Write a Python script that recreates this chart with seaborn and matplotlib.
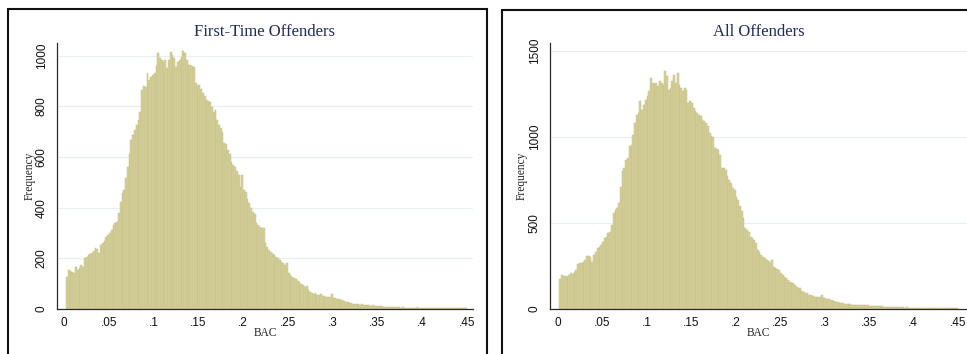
import numpy as np
import pandas as pd
import matplotlib
matplotlib.use("Agg")
import matplotlib.pyplot as plt
from matplotlib.patches import Rectangle
import seaborn as sns

# Histogram of blood alcohol content: counts per bin of width 0.002, starting at BAC 0.002
BIN_START = 0.002
BIN_WIDTH = 0.002

first_time_counts = [
    127, 153, 150, 146, 140, 166, 155, 160, 173, 166,
    199, 206, 212, 215, 219, 228, 239, 236, 219, 252,
    259, 268, 285, 290, 298, 311, 331, 338, 344, 377,
    423, 457, 470, 516, 560, 610, 668, 687, 707, 728,
    745, 780, 866, 879, 878, 932, 905, 918, 925, 931,
    960, 1010, 990, 985, 975, 985, 951, 985, 1017, 1004,
    990, 958, 977, 985, 997, 1021, 1012, 984, 964, 964,
    960, 958, 892, 879, 885, 868, 852, 840, 826, 822,
    819, 798, 780, 786, 745, 727, 714, 700, 654, 650,
    628, 610, 582, 570, 562, 545, 529, 483, 529, 470,
    463, 435, 417, 397, 384, 375, 338, 330, 324, 318,
    320, 259, 245, 232, 226, 215, 212, 206, 200, 193,
    186, 180, 172, 180, 140, 133, 127, 120, 116, 110,
    107, 96, 94, 87, 90, 74, 68, 63, 60, 61,
    55, 54, 58, 52, 50, 48, 47, 45, 58, 42,
    41, 38, 37, 35, 34, 29, 28, 25, 21, 22,
    20, 19, 18, 19, 16, 17, 15, 15, 14, 15,
    12, 13, 12, 11, 10, 11, 9, 8, 8, 7,
    7, 6, 6, 5, 6, 5, 5, 4, 5, 4,
    4, 3, 4, 3, 4, 3, 5, 3, 3, 2,
    3, 2, 2, 3, 2, 2, 2, 3, 2, 1,
    2, 1, 2, 1, 1, 2, 1, 1, 1, 1,
    2, 1, 1, 1,
]

all_counts = [
    171, 196, 192, 190, 183, 195, 206, 201, 212, 226,
    261, 265, 268, 274, 284, 307, 305, 303, 274, 313,
    330, 352, 362, 370, 391, 410, 420, 440, 449, 488,
    556, 575, 585, 614, 711, 799, 818, 867, 877, 945,
    955, 1013, 1080, 1130, 1139, 1207, 1159, 1188, 1217, 1240,
    1265, 1343, 1314, 1310, 1314, 1294, 1323, 1314, 1300, 1382,
    1353, 1275, 1285, 1323, 1363, 1314, 1372, 1304, 1285, 1265,
    1285, 1275, 1198, 1207, 1198, 1168, 1149, 1139, 1130, 1120,
    1100, 1090, 1081, 1061, 1023, 1003, 1000, 935, 930, 925,
    896, 818, 818, 808, 770, 750, 731, 702, 690, 653,
    634, 600, 566, 527, 470, 459, 449, 420, 410, 401,
    381, 342, 332, 310, 303, 294, 284, 280, 274, 284,
    245, 238, 230, 226, 210, 196, 183, 177, 170, 157,
    152, 148, 138, 128, 122, 119, 105, 99, 92, 90,
    82, 80, 72, 70, 67, 66, 70, 80, 62, 60,
    57, 55, 52, 51, 44, 41, 37, 35, 33, 31,
    30, 28, 26, 25, 24, 23, 22, 22, 21, 23,
    21, 20, 22, 20, 18, 17, 18, 16, 15, 14,
    13, 13, 12, 11, 11, 10, 9, 10, 8, 8,
    9, 7, 8, 7, 6, 7, 6, 6, 5, 6,
    5, 6, 5, 4, 5, 4, 6, 4, 4, 3,
    4, 3, 3, 4, 3, 2, 3, 2, 3, 2,
    2, 3, 2, 2,
]

x_ticks = [0, 0.05, 0.10, 0.15, 0.20, 0.25, 0.30, 0.35, 0.40, 0.45]
x_tick_labels = ["0", ".05", ".1", ".15", ".2", ".25", ".3", ".35", ".4", ".45"]
first_time_yticks = [0, 200, 400, 600, 800, 1000]
all_yticks = [0, 500, 1000, 1500]
panel_titles = ["First-Time Offenders", "All Offenders"]

sns.set_style("white")
plt.rcParams["font.family"] = ["Liberation Sans", "DejaVu Sans"]

BAR_FACE = "#d5d09a"
BAR_EDGE = "#c6c088"
GRID = "#e8f1f2"
SPINE = "#2a2a2a"
TITLE_COLOR = "#1f2d5c"
SERIF = ["Liberation Serif", "DejaVu Serif"]

W, H = 967, 354
fig = plt.figure(figsize=(W / 100, H / 100), dpi=100)
fig.patch.set_facecolor("white")


def px_axes(left, top, right, bottom):
    return fig.add_axes([left / W, 1 - bottom / H, (right - left) / W, (bottom - top) / H])


def draw_panel(ax, counts, yticks, ylim, xlim, title):
    n_bins = len(counts)
    centers = BIN_START + BIN_WIDTH * (np.arange(n_bins) + 0.5)
    df = pd.DataFrame({"bac": centers, "n": np.asarray(counts, dtype=float)})
    sns.histplot(data=df, x="bac", weights="n", binwidth=BIN_WIDTH,
                 binrange=(BIN_START, BIN_START + BIN_WIDTH * n_bins), ax=ax,
                 color=BAR_FACE, edgecolor=BAR_EDGE, linewidth=0.35,
                 alpha=1.0, zorder=2)
    ax.set_xlim(*xlim)
    ax.set_ylim(*ylim)
    for yv in yticks[1:]:
        ax.axhline(yv, color=GRID, lw=0.9, zorder=0)
    ax.set_xticks(x_ticks)
    ax.set_xticklabels(x_tick_labels)
    ax.set_yticks(yticks)
    ax.set_yticklabels([str(v) for v in yticks], rotation=90, va="center")
    ax.tick_params(axis="both", direction="out", length=3.8, width=0.8,
                   color=SPINE, labelsize=8.5, labelcolor="#111111")
    ax.tick_params(axis="x", pad=2.0)
    ax.tick_params(axis="y", pad=2.8)
    for side in ("top", "right"):
        ax.spines[side].set_visible(False)
    for side in ("left", "bottom"):
        ax.spines[side].set_color(SPINE)
        ax.spines[side].set_linewidth(0.9)
    ax.set_xlabel("")
    ax.set_ylabel("")
    ax.text(0.5, 1.0414, title, transform=ax.transAxes, ha="center", va="center",
            fontsize=12, color=TITLE_COLOR, family=SERIF)
    ax.text(0.5, -0.0915, "BAC", transform=ax.transAxes, ha="center", va="center",
            fontsize=8.3, color="#222222", family=SERIF)
    ax.set_facecolor("none")


ax1 = px_axes(57, 43, 473, 308.7)
draw_panel(ax1, first_time_counts, first_time_yticks, (0, 1051),
           (-0.00817, 0.4571), panel_titles[0])
ax1.text(-0.0649, 0.5, "Frequency", transform=ax1.transAxes, rotation=90,
         ha="center", va="center", fontsize=8.3, color="#222222", family=SERIF)

ax2 = px_axes(550, 43, 967, 308.7)
draw_panel(ax2, all_counts, all_yticks, (0, 1547),
           (-0.00866, 0.4604), panel_titles[1])
ax2.text(-0.067, 0.5, "Frequency", transform=ax2.transAxes, rotation=90,
         ha="center", va="center", fontsize=8.3, color="#222222", family=SERIF)

# Black frames around each graph
for (x0, y0, x1, y1) in [(8, 9, 487, 370), (502, 9.7, 990, 370)]:
    fig.patches.append(Rectangle((x0 / W, 1 - y1 / H), (x1 - x0) / W, (y1 - y0) / H,
                                 transform=fig.transFigure, fill=False,
                                 edgecolor="#111111", linewidth=1.5, zorder=10))

fig.savefig("out.png", dpi=100)
